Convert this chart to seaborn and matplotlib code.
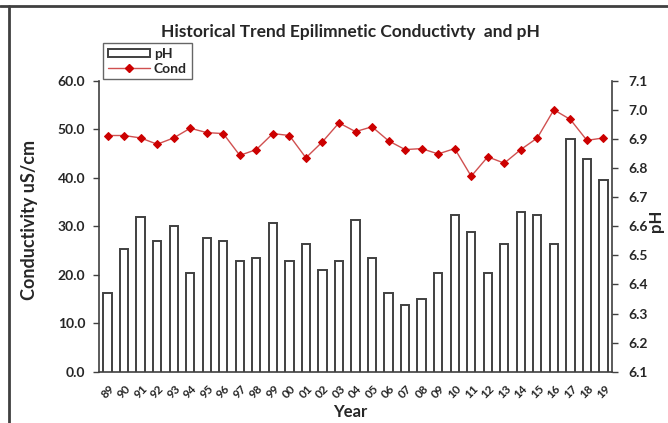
import pandas as pd
import seaborn as sns
import matplotlib.pyplot as plt
import numpy as np
from matplotlib.patches import Patch
from matplotlib.lines import Line2D
from matplotlib.ticker import FormatStrFormatter

years = ['89', '90', '91', '92', '93', '94', '95', '96', '97', '98', '99',
         '00', '01', '02', '03', '04', '05', '06', '07', '08', '09', '10',
         '11', '12', '13', '14', '15', '16', '17', '18', '19']
ph = [6.37, 6.52, 6.63, 6.55, 6.60, 6.44, 6.56, 6.55, 6.48, 6.49, 6.61,
      6.48, 6.54, 6.45, 6.48, 6.62, 6.49, 6.37, 6.33, 6.35, 6.44, 6.64,
      6.58, 6.44, 6.54, 6.65, 6.64, 6.54, 6.90, 6.83, 6.76]
cond = [48.7, 48.7, 48.2, 46.9, 48.2, 50.2, 49.3, 49.1, 44.6, 45.8, 49.1,
        48.7, 44.1, 47.4, 51.3, 49.5, 50.5, 47.6, 45.8, 46.0, 44.9, 46.0,
        40.3, 44.3, 43.0, 45.8, 48.2, 54.0, 52.0, 47.7, 48.2]

df = pd.DataFrame({'Year': years, 'pH': ph, 'Cond': cond})

sns.set_style('white')
plt.rcParams['font.family'] = ['Lato', 'DejaVu Sans']
plt.rcParams['font.weight'] = 'bold'
plt.rcParams['axes.labelweight'] = 'bold'

axcol = '#404040'
marker_col = '#CC0000'
line_col = '#D05050'

fig, ax = plt.subplots(figsize=(6.68, 4.23), dpi=100)
fig.subplots_adjust(left=99.3 / 668, right=611.7 / 668,
                    bottom=(423 - 371.7) / 423, top=(423 - 80.7) / 423)
ax2 = ax.twinx()

# pH bars on the right axis
sns.barplot(data=df, x='Year', y='pH', ax=ax2, color='white', saturation=1,
            edgecolor=axcol, linewidth=1.4, width=0.5)

# conductivity line on the left axis
sns.pointplot(data=df, x='Year', y='Cond', ax=ax, color=marker_col,
              markers='D', markersize=4.5, linewidth=1)
for ln in ax.lines:
    ln.set_color(line_col)
    ln.set_markerfacecolor(marker_col)
    ln.set_markeredgecolor(marker_col)

ax.set_zorder(ax2.get_zorder() + 1)
ax.patch.set_visible(False)

ax.set_ylim(0, 60)
ax.set_yticks(np.arange(0, 61, 10))
ax.yaxis.set_major_formatter(FormatStrFormatter('%.1f'))
ax2.set_ylim(6.1, 7.1)
ax2.set_yticks(np.arange(6.1, 7.11, 0.1))
ax2.yaxis.set_major_formatter(FormatStrFormatter('%.1f'))

ax.set_xlim(-0.5, len(years) - 0.5)
ax.set_xticks(range(len(years)))
ax.set_xticklabels(years, rotation=45, fontsize=8.5)
ax.set_xticks(np.arange(-0.5, len(years), 1), minor=True)
ax.tick_params(axis='x', which='major', length=0, pad=8)
ax.tick_params(axis='x', which='minor', length=4, width=1, color=axcol, direction='out')
ax.tick_params(axis='y', length=4, width=1, color=axcol, labelsize=10, pad=6, left=True)
ax2.tick_params(axis='y', length=4, width=1, color=axcol, labelsize=10, pad=8, right=True)

for s in ['top', 'right']:
    ax.spines[s].set_visible(False)
for s in ['top', 'left', 'bottom']:
    ax2.spines[s].set_visible(False)
for sp in [ax.spines['left'], ax.spines['bottom'], ax2.spines['right']]:
    sp.set_color(axcol)
    sp.set_linewidth(1.2)

ax.set_ylabel('Conductivity uS/cm', fontsize=13)
ax.yaxis.set_label_coords(-0.12, 0.52)
ax2.set_ylabel('pH', fontsize=12)
ax2.yaxis.set_label_coords(1.07, 0.52)
ax.set_xlabel('Year', fontsize=12)
ax.xaxis.set_label_coords(0.489, -0.112)
ax2.set_xlabel('')

fig.text(350 / 668, 1 - 32 / 423, 'Historical Trend Epilimnetic Conductivty  and pH',
         ha='center', va='center', fontsize=12.5, fontweight='bold')

handles = [Patch(facecolor='white', edgecolor=axcol, linewidth=1.4),
           Line2D([], [], color=line_col, marker='D', markersize=4.5,
                  markerfacecolor=marker_col, markeredgecolor=marker_col, linewidth=1)]
leg = fig.legend(handles, ['pH', 'Cond'], loc='upper left',
                 bbox_to_anchor=(103 / 668, 1 - 43 / 423), borderaxespad=0,
                 fontsize=10, handlelength=3.0, handleheight=0.6, handletextpad=0.3,
                 borderpad=0.35, labelspacing=0.2, fancybox=False, frameon=True)
leg.get_frame().set_edgecolor(axcol)
leg.get_frame().set_linewidth(1)

# page border seen in the screenshot
fig.add_artist(Line2D([0, 1], [1 - 6 / 423, 1 - 6 / 423], color=axcol, lw=2))
fig.add_artist(Line2D([8.5 / 668, 8.5 / 668], [0, 1 - 6 / 423], color=axcol, lw=2))

fig.savefig('out.png', dpi=100)
